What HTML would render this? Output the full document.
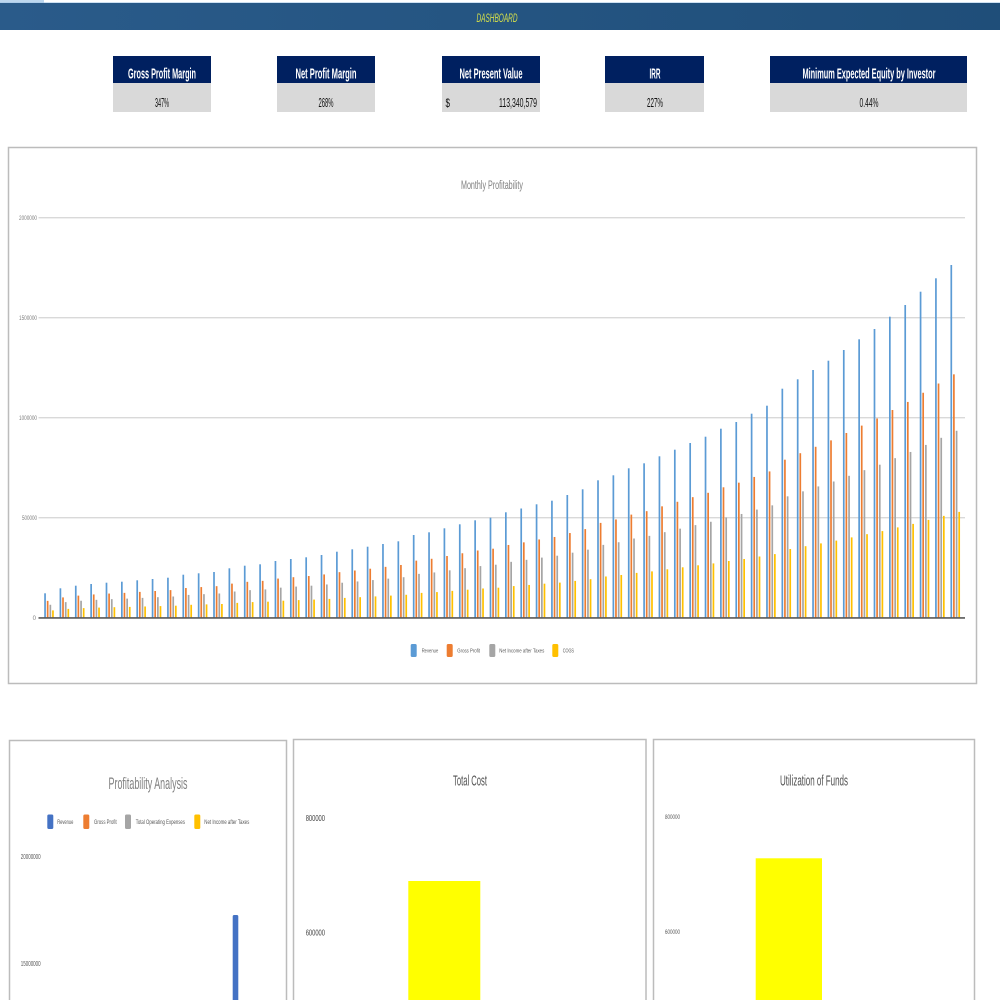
<!DOCTYPE html>
<html>
<head>
<meta charset="utf-8">
<style>
html,body{margin:0;padding:0;background:#fff;}
svg{display:block;}
</style>
</head>
<body>
<svg width="1000" height="1000" viewBox="0 0 1000 1000" xmlns="http://www.w3.org/2000/svg" xmlns:xlink="http://www.w3.org/1999/xlink" font-family="'Liberation Sans', sans-serif">
<defs>
<linearGradient id="hg" x1="0" y1="0" x2="1" y2="0">
<stop offset="0" stop-color="#2a5b8a"/>
<stop offset="1" stop-color="#1f4e79"/>
</linearGradient>
<g id="rev">
<rect x="44.2" y="0" width="1.7" height="24.4"/>
<rect x="59.56" y="0" width="1.7" height="29.4"/>
<rect x="74.92" y="0" width="1.7" height="32"/>
<rect x="90.28" y="0" width="1.7" height="33.7"/>
<rect x="105.64" y="0" width="1.7" height="35"/>
<rect x="121.0" y="0" width="1.7" height="36"/>
<rect x="136.36" y="0" width="1.7" height="37.4"/>
<rect x="151.72" y="0" width="1.7" height="38.7"/>
<rect x="167.08" y="0" width="1.7" height="40"/>
<rect x="182.44" y="0" width="1.7" height="43"/>
<rect x="197.8" y="0" width="1.7" height="44.4"/>
<rect x="213.16" y="0" width="1.7" height="45.7"/>
<rect x="228.52" y="0" width="1.7" height="49.4"/>
<rect x="243.88" y="0" width="1.7" height="52"/>
<rect x="259.24" y="0" width="1.7" height="53.4"/>
<rect x="274.6" y="0" width="1.7" height="56.7"/>
<rect x="289.96" y="0" width="1.7" height="58.7"/>
<rect x="305.32" y="0" width="1.7" height="60.4"/>
<rect x="320.68" y="0" width="1.7" height="62.7"/>
<rect x="336.04" y="0" width="1.7" height="66"/>
<rect x="351.4" y="0" width="1.7" height="68.4"/>
<rect x="366.76" y="0" width="1.7" height="71"/>
<rect x="382.12" y="0" width="1.7" height="73.7"/>
<rect x="397.48" y="0" width="1.7" height="76.4"/>
<rect x="412.84" y="0" width="1.7" height="82.7"/>
<rect x="428.2" y="0" width="1.7" height="85.4"/>
<rect x="443.56" y="0" width="1.7" height="89.4"/>
<rect x="458.92" y="0" width="1.7" height="93.4"/>
<rect x="474.28" y="0" width="1.7" height="97.4"/>
<rect x="489.64" y="0" width="1.7" height="100"/>
<rect x="505.0" y="0" width="1.7" height="105.4"/>
<rect x="520.36" y="0" width="1.7" height="109.2"/>
<rect x="535.72" y="0" width="1.7" height="113.4"/>
<rect x="551.08" y="0" width="1.7" height="117"/>
<rect x="566.44" y="0" width="1.7" height="122.7"/>
<rect x="581.8" y="0" width="1.7" height="128.4"/>
<rect x="597.16" y="0" width="1.7" height="137.4"/>
<rect x="612.52" y="0" width="1.7" height="142.4"/>
<rect x="627.88" y="0" width="1.7" height="149.4"/>
<rect x="643.24" y="0" width="1.7" height="154.4"/>
<rect x="658.6" y="0" width="1.7" height="161.4"/>
<rect x="673.96" y="0" width="1.7" height="168"/>
<rect x="689.32" y="0" width="1.7" height="174.7"/>
<rect x="704.68" y="0" width="1.7" height="181"/>
<rect x="720.04" y="0" width="1.7" height="189"/>
<rect x="735.4" y="0" width="1.7" height="195.7"/>
<rect x="750.76" y="0" width="1.7" height="204"/>
<rect x="766.12" y="0" width="1.7" height="212"/>
<rect x="781.48" y="0" width="1.7" height="229"/>
<rect x="796.84" y="0" width="1.7" height="238.4"/>
<rect x="812.2" y="0" width="1.7" height="247.7"/>
<rect x="827.56" y="0" width="1.7" height="257"/>
<rect x="842.92" y="0" width="1.7" height="267.7"/>
<rect x="858.28" y="0" width="1.7" height="278.4"/>
<rect x="873.64" y="0" width="1.7" height="288.7"/>
<rect x="889.0" y="0" width="1.7" height="301"/>
<rect x="904.36" y="0" width="1.7" height="312.7"/>
<rect x="919.72" y="0" width="1.7" height="326"/>
<rect x="935.08" y="0" width="1.7" height="339.4"/>
<rect x="950.44" y="0" width="1.7" height="352.7"/>
</g>
</defs>

<!-- top strip -->
<rect x="0" y="0" width="1000" height="3" fill="#ffffff"/>
<rect x="0" y="0" width="44" height="3" fill="#bdd7ee"/>
<rect x="0" y="2.5" width="1000" height="0.8" fill="#9dc3e6"/>
<!-- header bar -->
<rect x="0" y="3" width="1000" height="27" fill="url(#hg)"/>
<text x="497" y="22" text-anchor="middle" font-size="12" font-style="italic" fill="#d6e04a" textLength="41" lengthAdjust="spacingAndGlyphs">DASHBOARD</text>

<!-- KPI cards -->
<g>
<rect x="113" y="56" width="98" height="27" fill="#002060"/>
<rect x="113" y="83" width="98" height="29" fill="#d9d9d9"/>
<text x="162" y="78.5" text-anchor="middle" font-size="15" font-weight="bold" fill="#ffffff" textLength="68" lengthAdjust="spacingAndGlyphs">Gross Profit Margin</text>
<text x="162" y="107" text-anchor="middle" font-size="12.5" fill="#111" textLength="14" lengthAdjust="spacingAndGlyphs">347%</text>

<rect x="277" y="56" width="98" height="27" fill="#002060"/>
<rect x="277" y="83" width="98" height="29" fill="#d9d9d9"/>
<text x="326" y="78.5" text-anchor="middle" font-size="15" font-weight="bold" fill="#ffffff" textLength="61" lengthAdjust="spacingAndGlyphs">Net Profit Margin</text>
<text x="326" y="107" text-anchor="middle" font-size="12.5" fill="#111" textLength="15" lengthAdjust="spacingAndGlyphs">268%</text>

<rect x="442" y="56" width="98" height="27" fill="#002060"/>
<rect x="442" y="83" width="98" height="29" fill="#d9d9d9"/>
<text x="491" y="78.5" text-anchor="middle" font-size="15" font-weight="bold" fill="#ffffff" textLength="63" lengthAdjust="spacingAndGlyphs">Net Present Value</text>
<text x="445.5" y="107" font-size="12" fill="#111" textLength="4.5" lengthAdjust="spacingAndGlyphs">$</text>
<text x="537" y="107" text-anchor="end" font-size="12.5" fill="#111" textLength="38" lengthAdjust="spacingAndGlyphs">113,340,579</text>

<rect x="605" y="56" width="99" height="27" fill="#002060"/>
<rect x="605" y="83" width="99" height="29" fill="#d9d9d9"/>
<text x="655" y="78.5" text-anchor="middle" font-size="15" font-weight="bold" fill="#ffffff" textLength="11" lengthAdjust="spacingAndGlyphs">IRR</text>
<text x="655" y="107" text-anchor="middle" font-size="12.5" fill="#111" textLength="16" lengthAdjust="spacingAndGlyphs">227%</text>

<rect x="770" y="56" width="197" height="27" fill="#002060"/>
<rect x="770" y="83" width="197" height="29" fill="#d9d9d9"/>
<text x="869" y="78.5" text-anchor="middle" font-size="15" font-weight="bold" fill="#ffffff" textLength="133" lengthAdjust="spacingAndGlyphs">Minimum Expected Equity by Investor</text>
<text x="869" y="107" text-anchor="middle" font-size="12.5" fill="#111" textLength="19" lengthAdjust="spacingAndGlyphs">0.44%</text>
</g>

<!-- Main chart -->
<rect x="8.5" y="147.5" width="968" height="536" fill="#ffffff" stroke="#bcbcbc" stroke-width="1.5"/>
<text x="492" y="189" text-anchor="middle" font-size="11.5" fill="#808080" textLength="62" lengthAdjust="spacingAndGlyphs">Monthly Profitability</text>

<g stroke="#d9d9d9" stroke-width="1.3">
<line x1="38.5" y1="217.7" x2="965" y2="217.7"/>
<line x1="38.5" y1="317.7" x2="965" y2="317.7"/>
<line x1="38.5" y1="417.7" x2="965" y2="417.7"/>
<line x1="38.5" y1="517.7" x2="965" y2="517.7"/>
</g>
<g font-size="6" fill="#7f7f7f" text-anchor="end">
<text x="37" y="220" textLength="18" lengthAdjust="spacingAndGlyphs">2000000</text>
<text x="37" y="320" textLength="18" lengthAdjust="spacingAndGlyphs">1500000</text>
<text x="37" y="420" textLength="18" lengthAdjust="spacingAndGlyphs">1000000</text>
<text x="37" y="520" textLength="15" lengthAdjust="spacingAndGlyphs">500000</text>
<text x="36" y="620">0</text>
</g>

<!-- series -->
<use xlink:href="#rev" href="#rev" fill="#5b9bd5" transform="translate(0,617.7) scale(1,-1)"/>
<use xlink:href="#rev" href="#rev" fill="#ed7d31" transform="translate(2.6,617.7) scale(1,-0.69)"/>
<use xlink:href="#rev" href="#rev" fill="#a5a5a5" transform="translate(5.3,617.7) scale(1,-0.53)"/>
<use xlink:href="#rev" href="#rev" fill="#ffc000" transform="translate(7.9,617.7) scale(1,-0.30)"/>

<line x1="38.5" y1="617.9" x2="965" y2="617.9" stroke="#595959" stroke-width="1.6"/>

<!-- legend -->
<g font-size="5.5" fill="#595959">
<rect x="410.7" y="644" width="6" height="13" rx="1.5" fill="#5b9bd5"/>
<text x="421.7" y="652.5" textLength="16.6" lengthAdjust="spacingAndGlyphs">Revenue</text>
<rect x="446.7" y="644" width="6" height="13" rx="1.5" fill="#ed7d31"/>
<text x="457.3" y="652.5" textLength="22.7" lengthAdjust="spacingAndGlyphs">Gross Profit</text>
<rect x="489.3" y="644" width="6" height="13" rx="1.5" fill="#a5a5a5"/>
<text x="499.3" y="652.5" textLength="45" lengthAdjust="spacingAndGlyphs">Net Income after Taxes</text>
<rect x="552.3" y="644" width="6" height="13" rx="1.5" fill="#ffc000"/>
<text x="562.7" y="652.5" textLength="11.3" lengthAdjust="spacingAndGlyphs">COGS</text>
</g>

<!-- Bottom chart 1 -->
<rect x="9.5" y="740.5" width="277" height="280" fill="#ffffff" stroke="#bcbcbc" stroke-width="1.5"/>
<text x="148" y="789" text-anchor="middle" font-size="17" fill="#808080" textLength="79" lengthAdjust="spacingAndGlyphs">Profitability Analysis</text>
<g font-size="6" fill="#595959">
<rect x="47.3" y="814.5" width="6" height="14.5" rx="1.5" fill="#4472c4"/>
<text x="57.3" y="824" textLength="16" lengthAdjust="spacingAndGlyphs">Revenue</text>
<rect x="83.3" y="814.5" width="6" height="14.5" rx="1.5" fill="#ed7d31"/>
<text x="94" y="824" textLength="22.7" lengthAdjust="spacingAndGlyphs">Gross Profit</text>
<rect x="125" y="814.5" width="6" height="14.5" rx="1.5" fill="#a5a5a5"/>
<text x="135.7" y="824" textLength="49.3" lengthAdjust="spacingAndGlyphs">Total Operating Expenses</text>
<rect x="194.3" y="814.5" width="6" height="14.5" rx="1.5" fill="#ffc000"/>
<text x="204.3" y="824" textLength="45" lengthAdjust="spacingAndGlyphs">Net Income after Taxes</text>
</g>
<g font-size="7" fill="#595959">
<text x="20.7" y="859" textLength="20" lengthAdjust="spacingAndGlyphs">20000000</text>
<text x="20.7" y="966" textLength="20" lengthAdjust="spacingAndGlyphs">15000000</text>
</g>
<rect x="232.7" y="915" width="5.6" height="95" rx="1.5" fill="#4472c4"/>

<!-- Bottom chart 2 -->
<rect x="293.5" y="739.5" width="352.5" height="280" fill="#ffffff" stroke="#bcbcbc" stroke-width="1.5"/>
<text x="470" y="785.5" text-anchor="middle" font-size="15" fill="#505050" textLength="34" lengthAdjust="spacingAndGlyphs">Total Cost</text>
<g font-size="8.5" fill="#404040">
<text x="305.7" y="821" textLength="19.3" lengthAdjust="spacingAndGlyphs">800000</text>
<text x="305.7" y="935.5" textLength="19.3" lengthAdjust="spacingAndGlyphs">600000</text>
</g>
<rect x="408.3" y="881" width="72" height="125" fill="#ffff00"/>

<!-- Bottom chart 3 -->
<rect x="653.5" y="739.5" width="321" height="280" fill="#ffffff" stroke="#bcbcbc" stroke-width="1.5"/>
<text x="814" y="785.5" text-anchor="middle" font-size="15" fill="#505050" textLength="68" lengthAdjust="spacingAndGlyphs">Utilization of Funds</text>
<g font-size="6" fill="#595959">
<text x="665" y="819" textLength="15" lengthAdjust="spacingAndGlyphs">800000</text>
<text x="665" y="934" textLength="15" lengthAdjust="spacingAndGlyphs">600000</text>
</g>
<rect x="755.7" y="858.3" width="66.3" height="150" fill="#ffff00"/>
</svg>
</body>
</html>
